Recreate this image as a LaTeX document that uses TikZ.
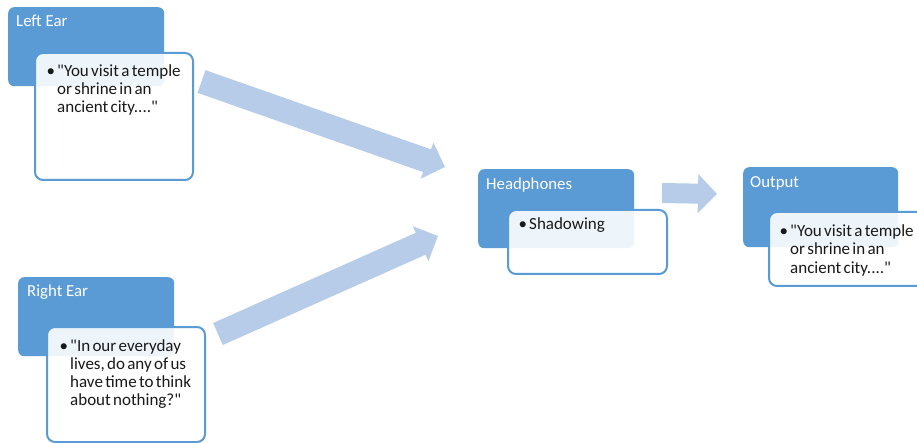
\documentclass[tikz,border=0pt]{standalone}
\usepackage{fontspec}
\setmainfont{Carlito}[Ligatures=TeXOff]
\usetikzlibrary{arrows.meta}
\definecolor{accent}{RGB}{91,155,213}
\definecolor{arrowblue}{RGB}{182,204,233}
\definecolor{txt}{RGB}{25,25,25}
\newcommand{\bul}{\llap{\makebox[10.5pt][l]{•}}}
\newcommand{\lines}[1]{\vtop{\baselineskip=18pt \spaceskip=2.3pt plus 1pt #1}}
\begin{document}
\begin{tikzpicture}[x=1pt,y=-1pt,
  headbox/.style={fill=accent, draw=none, rounded corners=6pt, anchor=north west, inner sep=0pt, minimum width=156pt, minimum height=79pt},
  bodybox/.style={fill=white, fill opacity=0.9, draw=accent, draw opacity=1, line width=2pt, rounded corners=8pt, anchor=north west, inner sep=0pt},
  headtext/.style={anchor=base west, inner sep=0pt, text=white, font=\fontsize{16.8}{18}\selectfont},
  bodytext/.style={anchor=base west, inner sep=0pt, text=txt, font=\fontsize{17}{18}\selectfont},
  flow/.style={draw=arrowblue, line width=24pt, -{Triangle[width=37pt,length=19pt]}}
]
\useasboundingbox (0,0) rectangle (917,443);
\fill[white] (0,0) rectangle (917,443);

% Left Ear
\node[headbox] (lefthead) at (8,7) {};
\node[bodybox, minimum width=158pt, minimum height=127pt] (leftbody) at (34,52) {};
\node[headtext] (lefttitle) at (16,27) {Left Ear};
\node[bodytext] (lefttext) at (57,77) {\lines{\hbox{\bul"You visit a temple}\hbox{or shrine in an}\hbox{ancient city...."}}};

% Right Ear
\node[headbox] (righthead) at (18,277) {};
\node[bodybox, minimum width=158pt, minimum height=115pt] (rightbody) at (46,326) {};
\node[headtext] (righttitle) at (27,297) {Right Ear};
\node[bodytext] (righttext) at (70,351) {\lines{\hbox{\bul"In our everyday}\hbox{lives, do any of us}\hbox{have time to think}\hbox{about nothing?"}}};

% Headphones
\node[headbox] (phonehead) at (478,169) {};
\node[bodybox, minimum width=159pt, minimum height=64pt] (phonebody) at (507,209) {};
\node[headtext] (phonetitle) at (486,190) {Headphones};
\node[bodytext] (phonetext) at (529,230) {\lines{\hbox{\bul Shadowing}}};

% Output
\node[headbox, minimum width=155pt, minimum height=80pt] (outhead) at (743,167) {};
\node[bodybox, minimum width=159pt, minimum height=74pt] (outbody) at (768,211) {};
\node[headtext] (outtitle) at (750,188) {Output};
\node[bodytext] (outtext) at (790,237) {\lines{\hbox{\bul"You visit a temple}\hbox{or shrine in an}\hbox{ancient city...."}}};

% Arrows
\coordinate (a1s) at (201.5,81.5);
\coordinate (a1e) at (445,167);
\coordinate (a2s) at (218,334);
\coordinate (a2e) at (438,236);
\coordinate (a3s) at (662,193);
\coordinate (a3e) at (717,194);
\draw[flow] (a1s) -- (a1e);
\draw[flow] (a2s) -- (a2e);
\draw[draw=arrowblue, line width=20pt, -{Triangle[width=38pt,length=19pt]}] (a3s) -- (a3e);
\end{tikzpicture}
\end{document}
